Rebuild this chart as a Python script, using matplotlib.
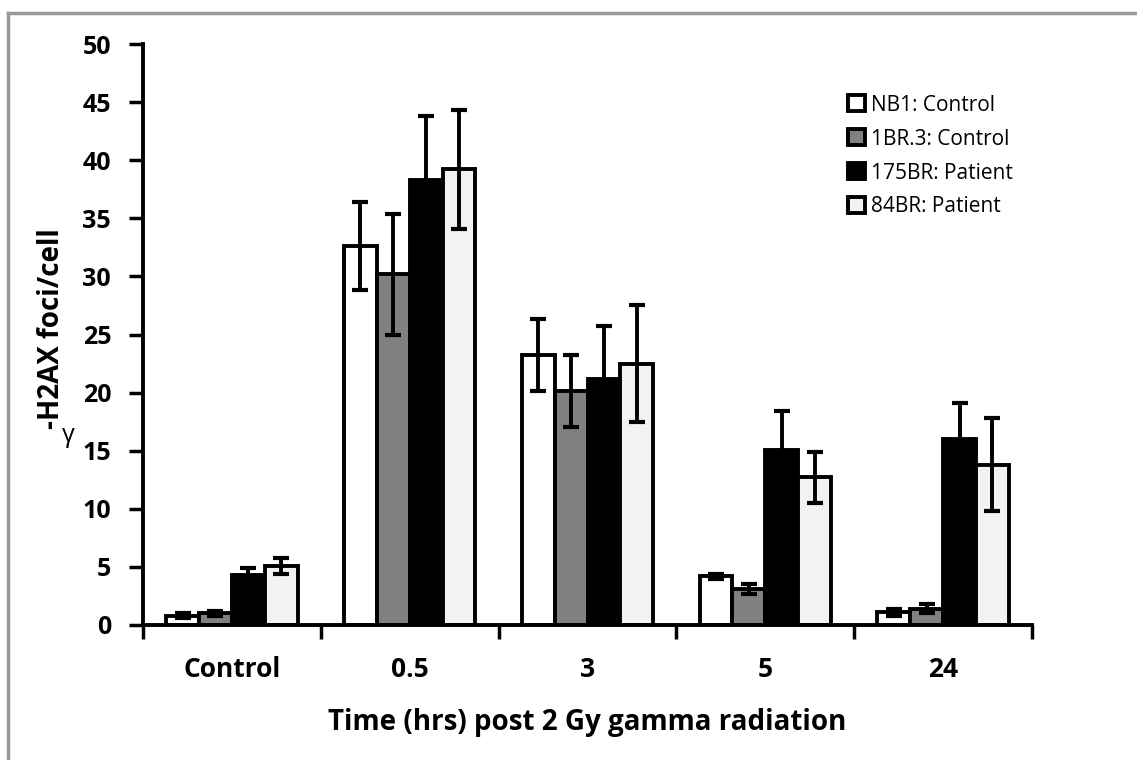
import matplotlib
matplotlib.use("Agg")
import matplotlib.pyplot as plt
from matplotlib.lines import Line2D
import numpy as np

plt.rcParams['font.family'] = ['Open Sans', 'DejaVu Sans']

# data
groups = ["Control", "0.5", "3", "5", "24"]
series = ["NB1: Control", "1BR.3: Control", "175BR: Patient", "84BR: Patient"]
nb1 = [0.8, 32.6, 23.2, 4.2, 1.1]
nb1_err = [0.2, 3.8, 3.1, 0.2, 0.3]
br13 = [1.0, 30.2, 20.1, 3.1, 1.4]
br13_err = [0.2, 5.2, 3.1, 0.4, 0.4]
br175 = [4.3, 38.3, 21.2, 15.1, 16.0]
br175_err = [0.6, 5.5, 4.5, 3.3, 3.1]
br84 = [5.1, 39.2, 22.5, 12.7, 13.8]
br84_err = [0.7, 5.1, 5.0, 2.2, 4.0]
colors = ["#ffffff", "#808080", "#000000", "#f2f2f2"]

fig = plt.figure(figsize=(11.37, 7.6), dpi=100)
ax = fig.add_axes([143/1137, 1-625/760, (1032-143)/1137, (625-44)/760])

x = np.arange(len(groups))
w = 0.185
vals = [nb1, br13, br175, br84]
errs = [nb1_err, br13_err, br175_err, br84_err]
for i, (v, e, c, lab) in enumerate(zip(vals, errs, colors, series)):
    ax.bar(x + (i - 1.5)*w, v, w, color=c, edgecolor="black", linewidth=2.8,
           label=lab, zorder=2)
    ax.errorbar(x + (i - 1.5)*w, v, yerr=e, fmt="none", ecolor="black",
                elinewidth=2.8, capsize=6, capthick=3, zorder=3)

ax.set_xlim(-0.5, 4.5)
ax.set_ylim(0, 50)
ax.set_yticks(np.arange(0, 51, 5))
ax.set_xticks(x)
ax.set_xticklabels(groups)
ax.set_xticks(np.arange(-0.5, 5, 1), minor=True)
ax.tick_params(axis="x", which="major", length=0, pad=22, labelsize=19)
ax.tick_params(axis="x", which="minor", length=10, width=2.5, direction="out")
ax.tick_params(axis="y", length=10, width=2.5, direction="out", pad=13, labelsize=18)
for t in ax.get_xticklabels() + ax.get_yticklabels():
    t.set_fontweight("bold")
for s in ["top", "right"]:
    ax.spines[s].set_visible(False)
for s in ["left", "bottom"]:
    ax.spines[s].set_linewidth(2.8)

ax.set_xlabel("Time (hrs) post 2 Gy gamma radiation", fontsize=20,
              fontweight="bold", labelpad=18)
fig.text(52/1137, 1-329/760, "-H2AX foci/cell", rotation=90, fontsize=20,
         fontweight="bold", ha="center", va="center")
fig.text(68/1137, 1-436/760, "\u03b3", fontsize=18, ha="center", va="center")

leg = ax.legend(loc="upper left", bbox_to_anchor=(0.772, 0.945), frameon=False,
                fontsize=15, handlelength=0.8, handleheight=0.8,
                handletextpad=0.3, labelspacing=0.62)

# partial frame around the chart
fig.add_artist(Line2D([8/1137, 8/1137], [0, 1-13/760], color="#999999", lw=2.5))
fig.add_artist(Line2D([8/1137, 1], [1-13/760, 1-13/760], color="#999999", lw=2.5))

fig.savefig("out.png", dpi=100)
